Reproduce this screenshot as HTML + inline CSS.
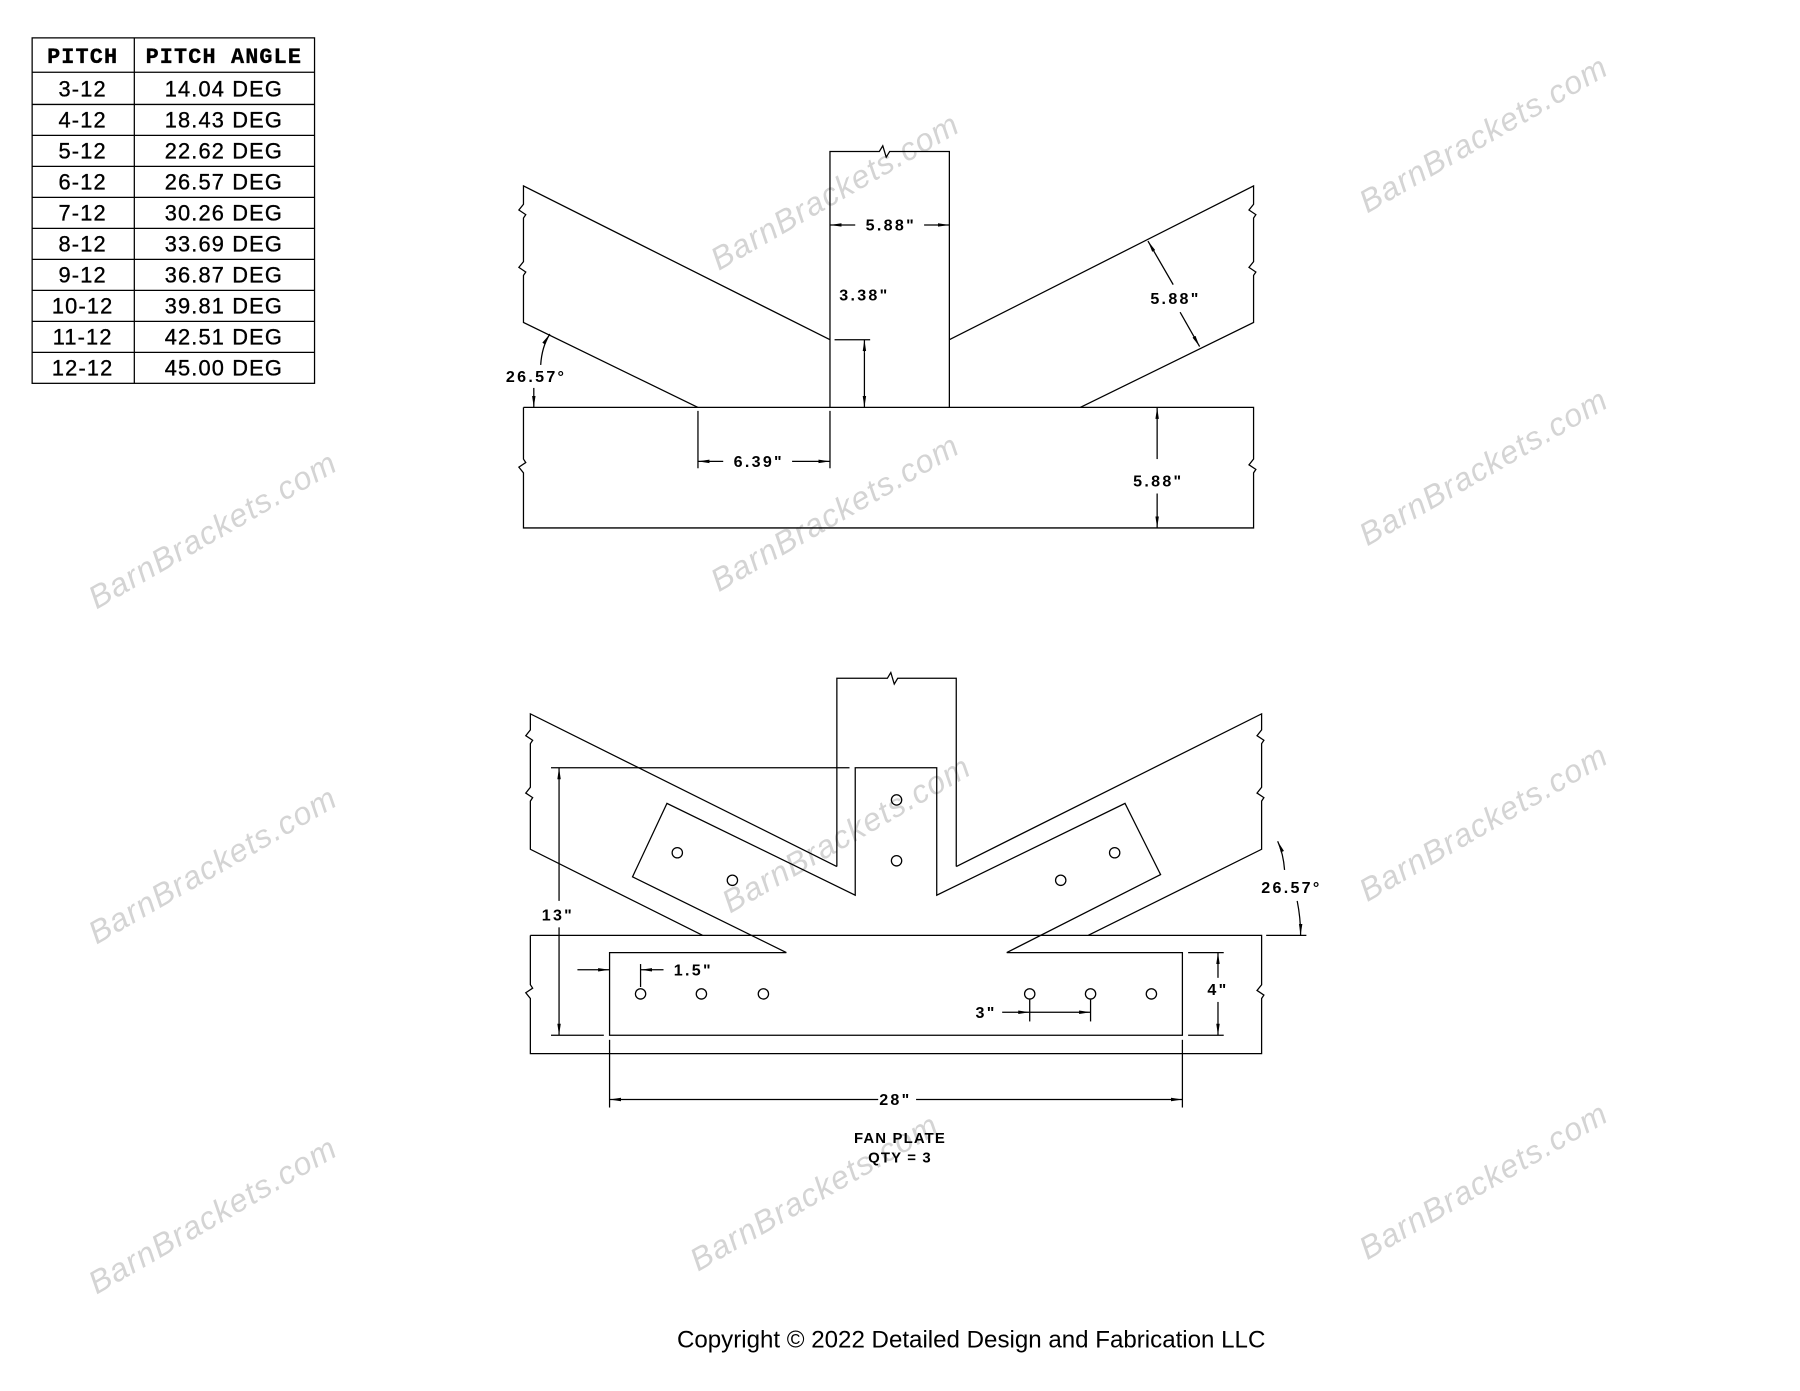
<!DOCTYPE html>
<html><head><meta charset="utf-8"><style>
html,body{margin:0;padding:0;background:#fff;}
svg{display:block;}
.l{stroke:#000;stroke-width:1.1;fill:none;}
.t{font-family:"Liberation Sans",sans-serif;font-weight:bold;font-size:14px;letter-spacing:2px;fill:#000;}
.tb{font-family:"Liberation Sans",sans-serif;font-size:19px;letter-spacing:1px;fill:#000;stroke:#000;stroke-width:0.3;}
.w{font-family:"Liberation Sans",sans-serif;font-size:28px;font-style:italic;fill:#d4d4d4;letter-spacing:1px;}
</style></head><body>
<svg width="1800" height="1391" viewBox="0 0 1568 1212" preserveAspectRatio="none" xmlns="http://www.w3.org/2000/svg">
<defs><marker id="a" viewBox="0 0 10 6" refX="10" refY="3" markerWidth="10" markerHeight="6" orient="auto-start-reverse" markerUnits="userSpaceOnUse"><path d="M0,1.5 L10,3 L0,4.5z" fill="#000"/></marker></defs>

<g class="w">
<text transform="translate(732,175) rotate(-30)" text-anchor="middle">BarnBrackets.com</text>
<text transform="translate(1297,125) rotate(-30)" text-anchor="middle">BarnBrackets.com</text>
<text transform="translate(190,470) rotate(-30)" text-anchor="middle">BarnBrackets.com</text>
<text transform="translate(732,455) rotate(-30)" text-anchor="middle">BarnBrackets.com</text>
<text transform="translate(1297,415) rotate(-30)" text-anchor="middle">BarnBrackets.com</text>
<text transform="translate(190,762) rotate(-30)" text-anchor="middle">BarnBrackets.com</text>
<text transform="translate(742,735) rotate(-30)" text-anchor="middle">BarnBrackets.com</text>
<text transform="translate(1297,725) rotate(-30)" text-anchor="middle">BarnBrackets.com</text>
<text transform="translate(190,1067) rotate(-30)" text-anchor="middle">BarnBrackets.com</text>
<text transform="translate(714,1047) rotate(-30)" text-anchor="middle">BarnBrackets.com</text>
<text transform="translate(1297,1037) rotate(-30)" text-anchor="middle">BarnBrackets.com</text>
</g>

<g class="l" stroke-width="1.2">
<rect x="28" y="33" width="246" height="301"/>
<line x1="117" y1="33" x2="117" y2="334"/>
<line x1="28" y1="63" x2="274" y2="63"/><line x1="28" y1="91" x2="274" y2="91"/>
<line x1="28" y1="118" x2="274" y2="118"/><line x1="28" y1="145" x2="274" y2="145"/>
<line x1="28" y1="172" x2="274" y2="172"/><line x1="28" y1="199" x2="274" y2="199"/>
<line x1="28" y1="226" x2="274" y2="226"/><line x1="28" y1="253" x2="274" y2="253"/>
<line x1="28" y1="280" x2="274" y2="280"/><line x1="28" y1="307" x2="274" y2="307"/>
</g>
<g class="tb" text-anchor="middle">
<text x="72" y="55" font-weight="bold" font-family="Liberation Mono">PITCH</text>
<text x="195" y="55" font-weight="bold" font-family="Liberation Mono">PITCH ANGLE</text>
<text x="72" y="84">3-12</text><text x="195" y="84">14.04 DEG</text>
<text x="72" y="111">4-12</text><text x="195" y="111">18.43 DEG</text>
<text x="72" y="138">5-12</text><text x="195" y="138">22.62 DEG</text>
<text x="72" y="165">6-12</text><text x="195" y="165">26.57 DEG</text>
<text x="72" y="192">7-12</text><text x="195" y="192">30.26 DEG</text>
<text x="72" y="219">8-12</text><text x="195" y="219">33.69 DEG</text>
<text x="72" y="246">9-12</text><text x="195" y="246">36.87 DEG</text>
<text x="72" y="273">10-12</text><text x="195" y="273">39.81 DEG</text>
<text x="72" y="300">11-12</text><text x="195" y="300">42.51 DEG</text>
<text x="72" y="327">12-12</text><text x="195" y="327">45.00 DEG</text>
</g>

<g class="l">
<polyline points="723,355 723,132 766,132 769,127 772,137 775,132 827,132 827,355"/>
<polyline points="456,355 1092,355 1092,400 1088,405 1094,409 1092,412 1092,460 456,460 456,412 452,407 458,403 456,400 456,355"/>
<polyline points="723,296 456,162 456,178 452,183 458,187 456,190 456,228 452,233 458,237 456,240 456,281 608,355"/>
<polyline points="827,296 1092,162 1092,178 1088,183 1094,187 1092,190 1092,228 1088,233 1094,237 1092,240 1092,281 941,355"/>
<line x1="723" y1="196" x2="745" y2="196" marker-start="url(#a)"/>
<line x1="805" y1="196" x2="827" y2="196" marker-end="url(#a)"/>
<line x1="727" y1="296" x2="758" y2="296"/>
<line x1="753" y1="307" x2="753" y2="296" marker-end="url(#a)"/>
<line x1="753" y1="307" x2="753" y2="355" marker-end="url(#a)"/>
<line x1="1022" y1="248" x2="1000" y2="210" marker-end="url(#a)"/>
<line x1="1028" y1="272" x2="1045" y2="302" marker-end="url(#a)"/>
<line x1="608" y1="358" x2="608" y2="408"/>
<line x1="723" y1="358" x2="723" y2="408"/>
<line x1="630" y1="402" x2="608" y2="402" marker-end="url(#a)"/>
<line x1="690" y1="402" x2="723" y2="402" marker-end="url(#a)"/>
<line x1="1008" y1="400" x2="1008" y2="355" marker-end="url(#a)"/>
<line x1="1008" y1="430" x2="1008" y2="460" marker-end="url(#a)"/>
<path d="M471,318 Q472,302 479,291" marker-end="url(#a)"/>
<line x1="465" y1="338" x2="465" y2="355" marker-end="url(#a)"/>
</g>
<g class="t" text-anchor="middle">
<text x="776" y="201">5.88"</text>
<text x="753" y="262">3.38"</text>
<text x="1024" y="265">5.88"</text>
<text x="467" y="333">26.57°</text>
<text x="661" y="407">6.39"</text>
<text x="1009" y="424">5.88"</text>
</g>

<g class="l">
<polyline points="729,755 729,591 773,591 776,586 779,596 782,591 833,591 833,755"/>
<polyline points="462,815 1099,815 1099,858 1095,863 1101,867 1099,870 1099,918 462,918 462,870 458,865 464,861 462,858 462,815"/>
<polyline points="729,755 462,622 462,636 458,641 464,645 462,648 462,686 458,691 464,695 462,698 462,740 612,815"/>
<polyline points="833,755 1099,622 1099,636 1095,641 1101,645 1099,648 1099,686 1095,691 1101,695 1099,698 1099,740 948,815"/>
<polygon points="531,830 685,830 551,764 581,700 745,780 745,669 816,669 816,780 980,700 1011,762 877,830 1030,830 1030,902 531,902"/>
<circle cx="590" cy="743" r="4.5"/><circle cx="638" cy="767" r="4.5"/>
<circle cx="781" cy="697" r="4.5"/><circle cx="781" cy="750" r="4.5"/>
<circle cx="924" cy="767" r="4.5"/><circle cx="971" cy="743" r="4.5"/>
<circle cx="558" cy="866" r="4.5"/><circle cx="611" cy="866" r="4.5"/><circle cx="665" cy="866" r="4.5"/>
<circle cx="897" cy="866" r="4.5"/><circle cx="950" cy="866" r="4.5"/><circle cx="1003" cy="866" r="4.5"/>
<line x1="480" y1="669" x2="740" y2="669"/>
<line x1="480" y1="902" x2="526" y2="902"/>
<line x1="487" y1="785" x2="487" y2="669" marker-end="url(#a)"/>
<line x1="487" y1="808" x2="487" y2="902" marker-end="url(#a)"/>
<line x1="503" y1="845" x2="531" y2="845" marker-end="url(#a)"/>
<line x1="578" y1="845" x2="558" y2="845" marker-end="url(#a)"/>
<line x1="558" y1="840" x2="558" y2="860"/>
<line x1="873" y1="882" x2="897" y2="882" marker-end="url(#a)"/>
<line x1="897" y1="882" x2="950" y2="882" marker-end="url(#a)"/>
<line x1="897" y1="871" x2="897" y2="890"/><line x1="950" y1="871" x2="950" y2="890"/>
<line x1="1035" y1="830" x2="1066" y2="830"/><line x1="1035" y1="902" x2="1066" y2="902"/>
<line x1="1061" y1="852" x2="1061" y2="830" marker-end="url(#a)"/>
<line x1="1061" y1="873" x2="1061" y2="902" marker-end="url(#a)"/>
<line x1="531" y1="906" x2="531" y2="965"/><line x1="1030" y1="906" x2="1030" y2="965"/>
<line x1="765" y1="958" x2="531" y2="958" marker-end="url(#a)"/>
<line x1="798" y1="958" x2="1030" y2="958" marker-end="url(#a)"/>
<line x1="1103" y1="815" x2="1138" y2="815"/>
<path d="M1119,758 Q1118,744 1113,733" marker-end="url(#a)"/>
<path d="M1130,785 Q1133,800 1133,815" marker-end="url(#a)"/>
</g>
<g class="t" text-anchor="middle">
<text x="486" y="802">13"</text>
<text x="604" y="850">1.5"</text>
<text x="859" y="887">3"</text>
<text x="1061" y="867">4"</text>
<text x="780" y="963">28"</text>
<text x="1125" y="778">26.57°</text>
<text x="784" y="996" font-size="13" letter-spacing="1">FAN PLATE</text>
<text x="784" y="1013" font-size="13" letter-spacing="1">QTY = 3</text>
</g>
<text x="846" y="1174" text-anchor="middle" font-family="Liberation Sans, sans-serif" font-size="21" fill="#000">Copyright © 2022 Detailed Design and Fabrication LLC</text>
</svg>
</body></html>
